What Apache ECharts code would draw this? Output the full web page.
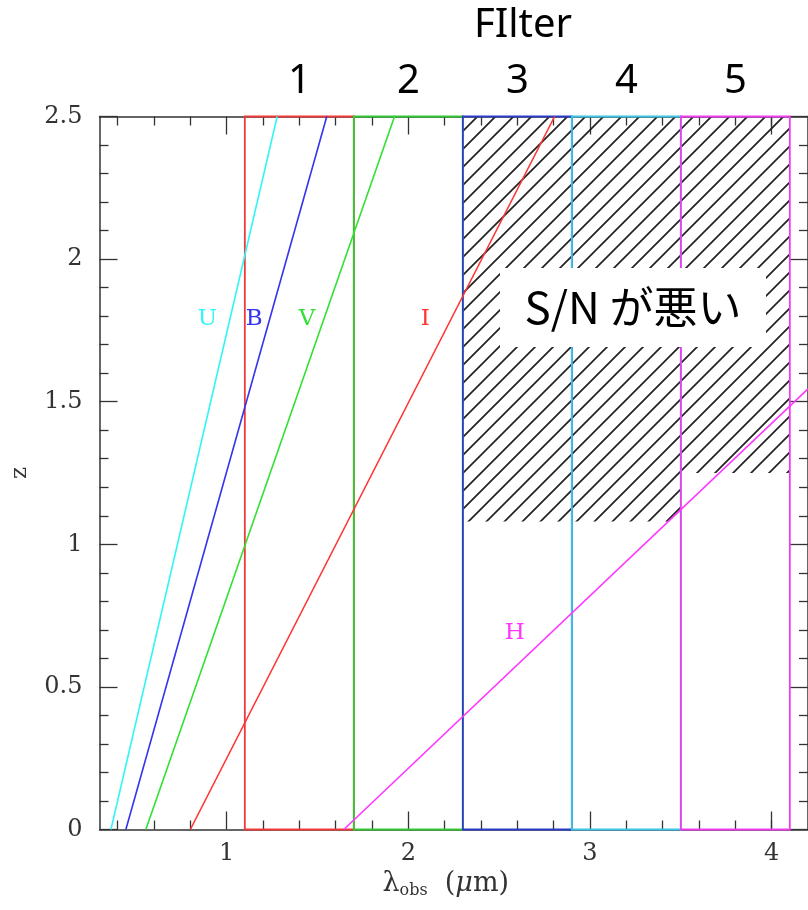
<!DOCTYPE html>
<html><head><meta charset="utf-8">
<script src="https://cdn.jsdelivr.net/npm/echarts@6/dist/echarts.min.js"></script>
<style>html,body{margin:0;padding:0;background:#fff}#c{width:808px;height:910px}</style>
</head><body><div id="c"></div>
<script>
// ---- data ----
const xMin = 0.3, xMax = 4.2, zMin = 0, zMax = 2.5;
const xMajorTicks = [1, 2, 3, 4];
const xMinorTicks = [0.4, 0.6, 0.8, 1.2, 1.4, 1.6, 1.8, 2.2, 2.4, 2.6, 2.8, 3.2, 3.4, 3.6, 3.8, 4.0];
const filterNames = ['1', '2', '3', '4', '5'];
const filterLeft = [1.1, 1.7, 2.3, 2.9, 3.5];
const filterRight = [1.7, 2.3, 2.9, 3.5, 4.1];
const bandNames = ['U', 'B', 'V', 'I', 'H'];
const bandStartX = [0.363, 0.445, 0.555, 0.80, 1.645];
const bandStartZ = [0, 0, 0, 0, 0];
const bandEndX = [1.278, 1.551, 1.924, 2.805, 4.2];
const bandEndZ = [2.5, 2.5, 2.5, 2.5, 1.545];
const bandLabelX = [0.894, 1.152, 1.442, 2.093, 2.586];
const bandLabelZ = [1.79, 1.79, 1.79, 1.79, 0.69];
const hatchX = [2.3, 4.1, 4.1, 3.5, 3.5, 2.3];
const hatchZ = [2.5, 2.5, 1.25, 1.25, 1.08, 1.08];
const titleText = 'FIlter';
const noteText = 'S/N が悪い';

// ---- styles ----
const filterColors = ['#ee3a3a', '#33c833', '#2a3cc8', '#3ac4e6', '#f03cf0'];
const bandColors = ['#33f5f5', '#3434ee', '#33e033', '#ff3434', '#ff36ff'];
const axisColor = '#333';
const serif = 'DejaVu Serif';

function makeHatch() {
  const s = 18;
  const c = document.createElement('canvas');
  c.width = s; c.height = s;
  const g = c.getContext('2d');
  g.strokeStyle = '#222';
  g.lineWidth = 1.7;
  g.beginPath();
  g.moveTo(-3, s + 3); g.lineTo(s + 3, -3);
  g.moveTo(-3, 3); g.lineTo(3, -3);
  g.moveTo(s - 3, s + 3); g.lineTo(s + 3, s - 3);
  g.stroke();
  return c;
}
const hatchPattern = { image: makeHatch(), repeat: 'repeat' };

function xAx(pos, ticks, len, showLine, labels) {
  return {
    type: 'value', position: pos, min: xMin, max: xMax,
    axisLine: { show: showLine, onZero: false, lineStyle: { color: axisColor, width: 1.5 } },
    axisTick: { show: true, inside: true, length: len, customValues: ticks, lineStyle: { color: axisColor, width: 1.3 } },
    axisLabel: labels ? { show: true, customValues: ticks, margin: 12, color: axisColor, fontFamily: serif, fontSize: 24 } : { show: false },
    splitLine: { show: false }
  };
}
function yAx(pos, labels) {
  return {
    type: 'value', position: pos, min: zMin, max: zMax, interval: 0.5,
    axisLine: { show: true, onZero: false, lineStyle: { color: axisColor, width: 1.5 } },
    axisTick: { show: true, inside: true, length: 18, lineStyle: { color: axisColor, width: 1.3 } },
    minorTick: { show: true, splitNumber: 5, length: 9, lineStyle: { color: axisColor, width: 1.3 } },
    axisLabel: labels ? { show: true, margin: 17, color: axisColor, fontFamily: serif, fontSize: 24 } : { show: false },
    splitLine: { show: false }
  };
}

const xAxes = [
  xAx('bottom', xMajorTicks, 18, true, true),
  xAx('bottom', xMinorTicks, 9, false, false),
  xAx('top', xMajorTicks, 18, true, false),
  xAx('top', xMinorTicks, 9, false, false)
];
Object.assign(xAxes[0], {
  name: '{a|λ}{s|obs}{a|  (}{m|μ}{a|m)}',
  nameLocation: 'middle', nameGap: 36,
  nameTextStyle: {
    padding: [0, 16, 0, 0],
    rich: {
      a: { fontFamily: serif, fontSize: 27, color: axisColor },
      m: { fontFamily: serif, fontSize: 27, fontStyle: 'italic', color: axisColor },
      s: { fontFamily: serif, fontSize: 16, color: axisColor, verticalAlign: 'bottom', padding: [14, 0, 0, 0] }
    }
  }
});
const yAxes = [yAx('left', true), yAx('right', false)];
Object.assign(yAxes[0], {
  name: 'z', nameLocation: 'middle', nameGap: 68,
  nameTextStyle: { fontFamily: serif, fontSize: 23, color: axisColor }
});

const series = [];
// hatched low S/N region
series.push({
  type: 'custom', z: 1, silent: true, data: [[hatchX[0], hatchZ[0]]],
  renderItem: function (params, api) {
    const pts = hatchX.map((x, i) => api.coord([x, hatchZ[i]]));
    return { type: 'polygon', shape: { points: pts }, style: { fill: hatchPattern, stroke: null } };
  }
});
// filter boxes + numbers
series.push({
  type: 'custom', z: 3, silent: true, clip: false,
  data: filterLeft.map((l, i) => [l, filterRight[i]]),
  renderItem: function (params, api) {
    const i = params.dataIndex;
    const p0 = api.coord([filterLeft[i], zMax]);
    const p1 = api.coord([filterRight[i], zMin]);
    return {
      type: 'group', children: [
        { type: 'rect', shape: { x: p0[0], y: p0[1], width: p1[0] - p0[0], height: p1[1] - p0[1] },
          style: { fill: null, stroke: filterColors[i], lineWidth: 1.8 } },
        { type: 'text', x: (p0[0] + p1[0]) / 2, y: p0[1] - 35,
          style: { text: filterNames[i], fill: '#000', font: '40px "Noto Sans"', align: 'center', verticalAlign: 'middle' } }
      ]
    };
  }
});
// redshift tracks
bandNames.forEach((n, i) => {
  series.push({
    type: 'line', name: n, z: 4, symbol: 'none', silent: true,
    data: [[bandStartX[i], bandStartZ[i]], [bandEndX[i], bandEndZ[i]]],
    lineStyle: { color: bandColors[i], width: 1.6 }
  });
});
// band labels
series.push({
  type: 'custom', z: 5, silent: true,
  data: bandLabelX.map((x, i) => [x, bandLabelZ[i]]),
  renderItem: function (params, api) {
    const i = params.dataIndex;
    const p = api.coord([bandLabelX[i], bandLabelZ[i]]);
    return { type: 'text', x: p[0], y: p[1],
      style: { text: bandNames[i], fill: bandColors[i], font: '23px "DejaVu Serif"', align: 'center', verticalAlign: 'middle' } };
  }
});

const chart = echarts.init(document.getElementById('c'), null, { renderer: 'canvas' });
chart.setOption({
  backgroundColor: '#fff',
  animation: false,
  grid: { left: 99.5, top: 116.5, width: 712, height: 713, containLabel: false },
  xAxis: xAxes,
  yAxis: yAxes,
  series: series,
  graphic: [
    { type: 'text', x: 523, y: 26, z: 100,
      style: { text: titleText, fill: '#000', font: '40px "Noto Sans"', align: 'center', verticalAlign: 'middle' } },
    { type: 'rect', z: 100, shape: { x: 500, y: 268, width: 266, height: 79 }, style: { fill: '#fff' } },
    { type: 'text', x: 633, y: 307, z: 101,
      style: { text: noteText, fill: '#000', font: '44px "Noto Sans CJK JP"', align: 'center', verticalAlign: 'middle' } }
  ]
});
</script></body></html>
